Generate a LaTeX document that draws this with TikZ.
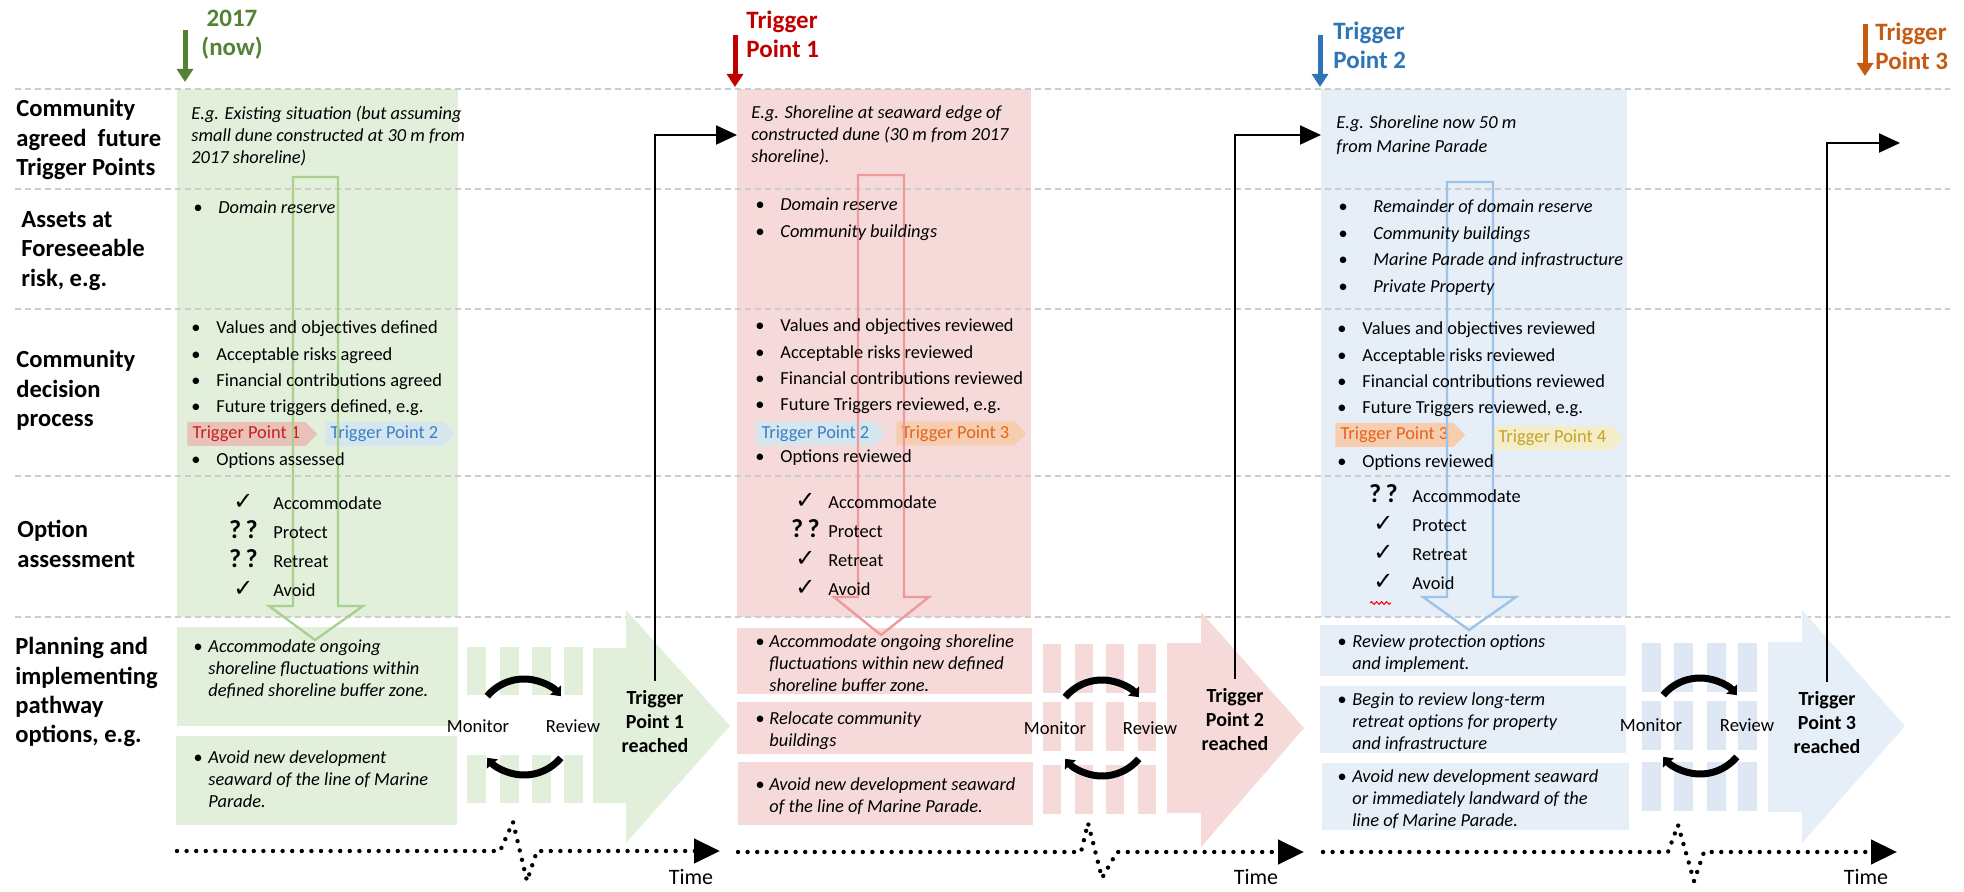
\documentclass[tikz,border=0pt]{standalone}
\usepackage{fontspec}
\setmainfont{Carlito}
\newfontfamily\symfont{DejaVu Sans}
\usetikzlibrary{arrows.meta,shapes.symbols,decorations.pathmorphing}

\definecolor{gfill}{HTML}{E2EFDA}
\definecolor{rfill}{HTML}{F6D9D9}
\definecolor{bfill}{HTML}{E6EEF8}
\definecolor{bstripe}{HTML}{DDE8F4}
\definecolor{ghead}{HTML}{548235}
\definecolor{rhead}{HTML}{C00000}
\definecolor{bhead}{HTML}{2E75B6}
\definecolor{ohead}{HTML}{C55A11}
\definecolor{gline}{HTML}{A9D08E}
\definecolor{rline}{HTML}{EE9A9A}
\definecolor{bline}{HTML}{9DC3E6}
\definecolor{tagA}{HTML}{E8C2B8}
\definecolor{tagB}{HTML}{D6E6EF}
\definecolor{tagC}{HTML}{F7CDB0}
\definecolor{tagD}{HTML}{F3EDC8}
\definecolor{txtA}{HTML}{C8201E}
\definecolor{txtB}{HTML}{3A80C4}
\definecolor{txtC}{HTML}{E0651E}
\definecolor{txtD}{HTML}{C9A227}

\newcommand{\bu}[1][12.5pt]{\makebox[#1][l]{•}}
\newcommand{\bl}[2][7.5pt]{\makebox[#1][l]{•}\begin{tabular}[t]{@{}l@{}}#2\end{tabular}}
\newcommand{\ok}{\makebox[12pt][c]{\smash{\symfont\fontsize{12}{12}\selectfont ✓}}}
\newcommand{\qq}{\makebox[12pt][c]{\smash{\fontsize{13}{13}\selectfont\bfseries ?\,?}}}

\tikzset{
  lab/.style={font=\fontsize{12.3}{14.7}\selectfont\bfseries, align=left, anchor=north west, inner sep=0},
  head/.style={font=\fontsize{12.5}{14.5}\selectfont\bfseries, align=left, anchor=north west, inner sep=0},
  eg/.style={font=\fontsize{9.2}{11}\selectfont\itshape, align=left, anchor=north west, inner sep=0},
  asset/.style={font=\fontsize{9.2}{13.5}\selectfont\itshape, align=left, anchor=north west, inner sep=0},
  body/.style={font=\fontsize{9.2}{13.2}\selectfont, align=left, anchor=north west, inner sep=0},
  opt/.style={font=\fontsize{9.2}{14.5}\selectfont, align=left, anchor=north west, inner sep=0},
  plan/.style={font=\fontsize{9.2}{11}\selectfont\itshape, align=left, anchor=north west, inner sep=0},
  tag/.style={signal, signal to=east, minimum width=65pt, minimum height=12pt, inner sep=1pt,
    anchor=west, font=\fontsize{9.2}{11}\selectfont},
  reach/.style={font=\fontsize{10}{12}\selectfont\bfseries, align=center, inner sep=5pt},
  small/.style={font=\fontsize{9.3}{11}\selectfont, inner sep=0},
  timelab/.style={font=\fontsize{11}{11}\selectfont, inner sep=0},
  rowline/.style={gray!40, line width=0.8pt, dash pattern=on 3pt off 2pt},
  tparrow/.style={line width=2.5pt, -{Triangle[length=6.5pt,width=8pt]}},
  conn/.style={line width=1pt, -{Triangle[length=10.5pt,width=9.5pt]}},
  cyc/.style={line width=3.5pt, -{Triangle[length=4pt,width=7pt]}},
  timeline/.style={line width=2.2pt, line cap=round, dash pattern=on 0pt off 4.8pt,
    -{Triangle[length=13pt,width=12pt]}},
  hollow/.style={line width=1.2pt}
}

\begin{document}
\begin{tikzpicture}[x=0.5pt,y=-0.5pt]
\useasboundingbox (0,0) rectangle (1964,892);

\fill[gfill] (177,89) rectangle (458,617);
\fill[rfill] (737,89) rectangle (1031,617);
\fill[bfill] (1321,89) rectangle (1627,617);

\fill[gfill] (177,627) rectangle (458,726);
\fill[gfill] (176,736) rectangle (457,825);
\fill[rfill] (737,628) rectangle (1032,694);
\fill[rfill] (737,702) rectangle (1032,754);
\fill[rfill] (738,762) rectangle (1033,825);
\fill[bfill] (1320,625) rectangle (1626,676);
\fill[bfill] (1320,686) rectangle (1626,753);
\fill[bfill] (1322,763) rectangle (1629,830);

\foreach \y in {89,189,309,476,617}
  \draw[rowline] (15,\y) -- (1950,\y);

\fill[gfill] (593,648) -- (626,648) -- (626,610) -- (730,726) -- (626,843) -- (626,803) -- (593,803) -- cycle;
\fill[rfill] (1167,643) -- (1201,643) -- (1201,612) -- (1304,728) -- (1201,847) -- (1201,813) -- (1167,813) -- cycle;
\fill[bfill] (1768,642) -- (1802,642) -- (1802,610) -- (1905,726) -- (1802,843) -- (1802,812) -- (1768,812) -- cycle;

\foreach \x in {467,500,532,564}
  \foreach \y in {647,755}
    \fill[gfill] (\x,\y) rectangle ++(19,48);
\foreach \x in {1043,1075,1106,1138}
  \foreach \y in {644,702,765}
    \fill[rfill] (\x,\y) rectangle ++(18,49);
\foreach \x in {1642,1674,1707,1738}
  \foreach \y in {643,701,762}
    \fill[bstripe] (\x,\y) rectangle ++(19,49);

\node[head, ghead, align=center, anchor=north] (H0) at (232,10) {2017\\(now)};
\node[head, rhead] (H1) at (746,11) {Trigger\\Point 1};
\node[head, bhead] (H2) at (1333,22) {Trigger\\Point 2};
\node[head, ohead] (H3) at (1875,23) {Trigger\\Point 3};
\draw[tparrow, ghead] (185,30) -- (185,82);
\draw[tparrow, rhead] (735,35) -- (735,87);
\draw[tparrow, bhead] (1320,35) -- (1320,87);
\draw[tparrow, ohead] (1865,24) -- (1865,76);

\node[lab] (L1) at (16,99) {Community\\agreed\ \ future\\Trigger Points};
\node[lab] (L2) at (21,211) {Assets at\\Foreseeable\\risk, e.g.};
\node[lab] (L3) at (16,350) {Community\\decision\\process};
\node[lab] (L4) at (17,520) {Option\\assessment};
\node[lab] (L5) at (15,637) {Planning and\\implementing\\pathway\\options, e.g.};

\node[tag, fill=tagA, text=txtA] (G5) at (187,434) {Trigger Point 1};
\node[tag, fill=tagB, text=txtB] (G6) at (325,434) {Trigger Point 2};
\node[tag, fill=tagB, text=txtB] (R4) at (756,433.5) {Trigger Point 2};
\node[tag, fill=tagC, text=txtC] (R5) at (896,433.5) {Trigger Point 3};
\node[tag, fill=tagC, text=txtC] (B4) at (1335,435) {Trigger Point 3};
\node[tag, fill=tagD, text=txtD] (B5) at (1493,438) {Trigger Point 4};

\draw[hollow, gline] (293,177) -- (338,177) -- (338,606) -- (363,606) -- (315,640) -- (269,606) -- (293,606) -- cycle;
\draw[hollow, rline] (858,175) -- (904,175) -- (904,597) -- (929,597) -- (881,635) -- (834,597) -- (858,597) -- cycle;
\draw[hollow, bline] (1447,182) -- (1493,182) -- (1493,597) -- (1516,597) -- (1469,630) -- (1423,597) -- (1447,597) -- cycle;

\node[eg] (G1) at (191,105.5) {E.g. Existing situation (but assuming\\small dune constructed at 30 m from\\2017 shoreline)};
\node[asset] (G2) at (193,200.5) {\bu Domain reserve};
\node[body] (G3) at (191,320.5) {\bu Values and objectives defined\\\bu Acceptable risks agreed\\\bu Financial contributions agreed\\\bu Future triggers defined, e.g.};
\node[body] (G4) at (191,452.5) {\bu Options assessed};
\node[opt] (G7) at (231,496.5) {\ok\hspace{9pt}Accommodate\\\qq\hspace{9pt}Protect\\\qq\hspace{9pt}Retreat\\\ok\hspace{9pt}Avoid};
\node[plan] (G8) at (193,636.5) {\bl{Accommodate ongoing\\shoreline fluctuations within\\defined shoreline buffer zone.}};
\node[plan] (G9) at (193,747.5) {\bl{Avoid new development\\seaward of the line of Marine\\Parade.}};

\node[eg] (R1) at (751,105.5) {E.g. Shoreline at seaward edge of\\constructed dune (30 m from 2017\\shoreline).};
\node[asset] (R2) at (755,197.5) {\bu Domain reserve\\\bu Community buildings};
\node[body] (R3) at (755,318.5) {\bu Values and objectives reviewed\\\bu Acceptable risks reviewed\\\bu Financial contributions reviewed\\\bu Future Triggers reviewed, e.g.};
\node[body] (R6) at (755,449.5) {\bu Options reviewed};
\node[opt] (R7) at (793,495.5) {\ok\hspace{5.5pt}Accommodate\\\qq\hspace{5.5pt}Protect\\\ok\hspace{5.5pt}Retreat\\\ok\hspace{5.5pt}Avoid};
\node[plan] (R8) at (755,631.5) {\bl[7pt]{Accommodate ongoing shoreline\\fluctuations within new defined\\shoreline buffer zone.}};
\node[plan] (R9) at (755,708.5) {\bl[7pt]{Relocate community\\buildings}};
\node[plan] (R10) at (755,774.5) {\bl[7pt]{Avoid new development seaward\\of the line of Marine Parade.}};

\node[eg, font=\fontsize{9.2}{12}\selectfont\itshape] (B1) at (1336,115.5) {E.g. Shoreline now 50 m\\from Marine Parade};
\node[asset, font=\fontsize{9.2}{13.3}\selectfont\itshape] (B2) at (1338,199.5) {\bu[17.5pt]Remainder of domain reserve\\\bu[17.5pt]Community buildings\\\bu[17.5pt]Marine Parade and infrastructure\\\bu[17.5pt]Private Property};
\node[body] (B3) at (1337,321.5) {\bu Values and objectives reviewed\\\bu Acceptable risks reviewed\\\bu Financial contributions reviewed\\\bu Future Triggers reviewed, e.g.};
\node[body] (B6) at (1337,454.5) {\bu Options reviewed};
\node[opt] (B7) at (1371,489.5) {\qq\hspace{8.5pt}Accommodate\\\ok\hspace{8.5pt}Protect\\\ok\hspace{8.5pt}Retreat\\\ok\hspace{8.5pt}Avoid};
\draw[red, line width=0.5pt, decorate, decoration={snake, amplitude=0.7pt, segment length=2.5pt}] (1370,603) -- (1391,603);
\node[plan] (B8) at (1337,631.5) {\bl{Review protection options\\and implement.}};
\node[plan] (B9) at (1337,689.5) {\bl{Begin to review long-term\\retreat options for property\\and infrastructure}};
\node[plan] (B10) at (1337,766.5) {\bl{Avoid new development seaward\\or immediately landward of the\\line of Marine Parade.}};

\foreach \cx/\cy in {524/727,1102/728,1700/726} {
  \draw[cyc] (\cx,\cy) ++(220:48) arc[start angle=220,end angle=320,radius=48];
  \draw[cyc] (\cx,\cy) ++(40:48) arc[start angle=40,end angle=140,radius=48];
}
\node[small] (M1) at (478,726) {Monitor};
\node[small] (V1) at (573,726) {Review};
\node[small] (M2) at (1055,728) {Monitor};
\node[small] (V2) at (1150,728) {Review};
\node[small] (M3) at (1651,725) {Monitor};
\node[small] (V3) at (1747,725) {Review};

\node[reach] (P1) at (655,722) {Trigger\\Point 1\\reached};
\node[reach] (P2) at (1235,720) {Trigger\\Point 2\\reached};
\node[reach] (P3) at (1827,723) {Trigger\\Point 3\\reached};
\coordinate (E1) at (737,135);
\coordinate (E2) at (1321,135);
\coordinate (E3) at (1900,143);
\draw[conn] (P1.north) |- (E1);
\draw[conn] (P2.north) |- (E2);
\draw[conn] (P3.north) |- (E3);

\draw[timeline] (177,851) -- (500,851) -- (513,822) -- (527,881) -- (537,851) -- (720,851);
\draw[timeline] (738,852) -- (1081,852) -- (1088,823) -- (1102,878) -- (1117,852) -- (1304,852);
\draw[timeline] (1323,852) -- (1668,852) -- (1678,825) -- (1694,881) -- (1704,852) -- (1897,852);
\node[timelab] (T1) at (691,877) {Time};
\node[timelab] (T2) at (1256,877) {Time};
\node[timelab] (T3) at (1866,877) {Time};
\end{tikzpicture}
\end{document}
